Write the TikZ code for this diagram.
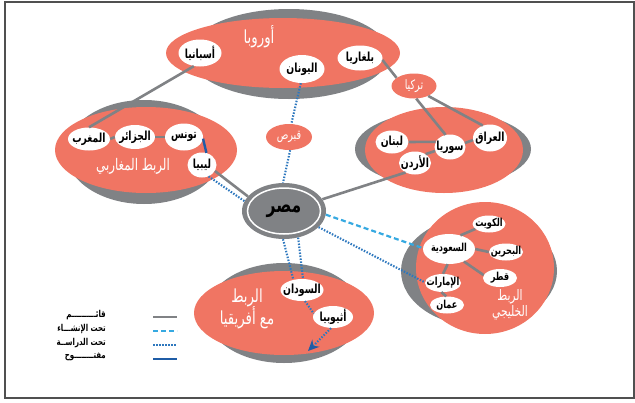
\documentclass[tikz,border=0pt]{standalone}
\usepackage{fontspec}
\usetikzlibrary{shapes.geometric,arrows.meta}
\TeXXeTstate=1
\newfontfamily\arabicfont[Script=Arabic,FakeStretch=0.74]{DejaVu Sans}
\definecolor{salmon}{HTML}{F07563}
\definecolor{grp}{HTML}{808285}
\definecolor{dotblue}{HTML}{2E78BE}
\definecolor{dashblue}{HTML}{36A9E1}
\definecolor{openblue}{HTML}{1F5CA6}
\definecolor{framec}{HTML}{505050}
\newcommand{\artx}[1]{\makebox[0pt]{\arabicfont\beginR #1\endR}}
\newcommand{\arln}[1]{{\arabicfont\beginR #1\endR}}
\begin{document}
\begin{tikzpicture}[x=1pt,y=-1pt,
  grpshadow/.style={ellipse,fill=grp,inner sep=0pt},
  grpbody/.style={ellipse,fill=salmon,inner sep=0pt},
  country/.style={ellipse,fill=white,inner sep=0pt,text=black,font=\fontsize{12.5}{12.5}\selectfont\bfseries},
  gcountry/.style={country,font=\fontsize{11}{11}\selectfont\bfseries},
  redsmall/.style={ellipse,fill=salmon,inner sep=0pt,text=white,font=\fontsize{13}{13}\selectfont},
  gtitle/.style={inner sep=0pt,text=white,font=\fontsize{16}{16}\selectfont},
  legtext/.style={inner sep=0pt,anchor=east,text=black,font=\fontsize{9.5}{9.5}\selectfont\bfseries},
  solidc/.style={draw=grp,line width=2.6pt},
  dashc/.style={draw=dashblue,line width=2.2pt,dash pattern=on 5pt off 3pt},
  dotc/.style={draw=dotblue,line width=2.1pt,dash pattern=on 1.5pt off 1.5pt},
  openc/.style={draw=openblue,line width=2.4pt}]
\useasboundingbox (0,0) rectangle (635,402);
\draw[framec,line width=1.3pt] (5,2) rectangle (634,398);

% group backgrounds
\node[grpshadow,minimum width=200pt,minimum height=90pt] (eurg) at (289,54) {};
\node[grpbody,minimum width=234pt,minimum height=70pt] (eur) at (283,53) {};
\node[grpshadow,minimum width=156pt,minimum height=104pt] (magg) at (144,152) {};
\node[grpbody,minimum width=182pt,minimum height=86pt] (magb) at (146,150) {};
\node[grpshadow,minimum width=176pt,minimum height=76pt] (levg) at (443,149) {};
\node[grpbody,minimum width=158pt,minimum height=86pt] (levb) at (444,150) {};
\node[grpshadow,minimum width=156pt,minimum height=110pt] (gulg) at (479,271) {};
\node[grpbody,minimum width=138pt,minimum height=132pt] (gulb) at (485,268) {};
\node[grpshadow,minimum width=156pt,minimum height=100pt] (afrg) at (284,313) {};
\node[grpbody,minimum width=180pt,minimum height=84pt] (afrb) at (284,313) {};

% titles
\node[gtitle,font=\fontsize{18}{18}\selectfont] (teur) at (259,37) {\arln{أوروبا}};
\node[gtitle] (tmag) at (133,166) {\arln{الربط المغاربي}};
\node[gtitle,font=\fontsize{18}{18}\selectfont] (tafr1) at (247,298) {\arln{الربط}};
\node[gtitle,font=\fontsize{18}{18}\selectfont] (tafr2) at (247,318) {\arln{مع أفريقيا}};
\node[gtitle,font=\fontsize{14.5}{14.5}\selectfont] (tgul1) at (510,297) {\arln{الربط}};
\node[gtitle,font=\fontsize{14.5}{14.5}\selectfont] (tgul2) at (510,313) {\arln{الخليجي}};

% Egypt
\node[ellipse,fill=grp,inner sep=0pt,minimum width=84pt,minimum height=56pt] (egy) at (284,211) {};
\node[ellipse,fill=grp,draw=white,line width=1.5pt,inner sep=0pt,minimum width=73pt,minimum height=46pt,text=black,font=\fontsize{21}{21}\selectfont\bfseries] (egyin) at (284,211) {\artx{مصر}};

% countries
\node[country,minimum width=43pt,minimum height=27pt] (esp) at (200,53) {\artx{أسبانيا}};
\node[country,minimum width=45pt,minimum height=28pt] (gre) at (302,69) {\artx{اليونان}};
\node[country,minimum width=45pt,minimum height=25pt] (bul) at (360,58) {\artx{بلغاريا}};
\node[redsmall,minimum width=45pt,minimum height=25pt] (tur) at (414,86) {\artx{تركيا}};
\node[redsmall,minimum width=46pt,minimum height=26pt] (cyp) at (289,137) {\artx{قبرص}};
\node[country,minimum width=42pt,minimum height=23pt] (mag) at (89,139) {\artx{المغرب}};
\node[country,minimum width=40pt,minimum height=24pt] (alg) at (135,137) {\artx{الجزائر}};
\node[country,minimum width=38pt,minimum height=27pt] (tun) at (184,137) {\artx{تونس}};
\node[country,minimum width=29pt,minimum height=25pt] (lib) at (202,165) {\artx{ليبيا}};
\node[country,minimum width=33pt,minimum height=23pt] (leb) at (392,142) {\artx{لبنان}};
\node[country,minimum width=31pt,minimum height=25pt] (syr) at (450,147) {\artx{سوريا}};
\node[country,minimum width=34pt,minimum height=27pt] (irq) at (490,138) {\artx{العراق}};
\node[country,minimum width=32pt,minimum height=23pt] (jor) at (415,163) {\artx{الأردن}};
\node[gcountry,minimum width=33pt,minimum height=17pt] (kuw) at (489,224) {\artx{الكويت}};
\node[gcountry,minimum width=52pt,minimum height=30pt] (sau) at (449,249) {\artx{السعودية}};
\node[gcountry,minimum width=34pt,minimum height=17pt] (bah) at (506,252) {\artx{البحرين}};
\node[gcountry,minimum width=34pt,minimum height=18pt] (qat) at (500,278) {\artx{قطر}};
\node[gcountry,minimum width=36pt,minimum height=18pt] (uae) at (443,283) {\artx{الإمارات}};
\node[gcountry,minimum width=34pt,minimum height=17pt] (oman) at (447,305) {\artx{عمان}};
\node[country,minimum width=43pt,minimum height=22pt] (sud) at (302,290) {\artx{السودان}};
\node[country,minimum width=40pt,minimum height=22pt] (eth) at (333,317) {\artx{أثيوبيا}};
\coordinate (arrend) at (308,351);

% connectors
\draw[solidc] (esp.-115) -- (mag.90);
\draw[solidc] (bul.-5) -- (tur.155);
\draw[solidc] (tur.-80) -- (syr.110);
\draw[solidc] (tur.-35) -- (irq.120);
\draw[solidc] (leb.0) -- (syr.160);
\draw[solidc] (syr.15) -- (irq.187);
\draw[solidc] (syr.195) -- (jor.40);
\draw[solidc] (jor.-135) -- (egy.17);
\draw[solidc] (mag.0) -- (alg.180);
\draw[solidc] (alg.0) -- (tun.180);
\draw[openc] (tun.-5) -- (lib.70);
\draw[solidc] (lib.-25) -- (egy.158);
\draw[dotc] (lib.-60) -- (egy.166);
\draw[dotc] (gre.-95) -- (cyp.80);
\draw[dotc] (cyp.-85) -- (egy.92);
\draw[dashc] (egy.-5) -- (sau.178);
\draw[dotc] (egy.-25) -- (uae.178);
\draw[dotc] (egy.-92) -- (sud.130);
\draw[dotc] (egy.-62) -- (sud.85);
\draw[dotc] (sud.-75) -- (eth.170);
\draw[dotc,-{Stealth[length=11pt,width=10pt,fill=openblue,color=openblue]}] (eth.-100) -- (arrend);
\draw[solidc] (sau.50) -- (kuw.200);
\draw[solidc] (sau.0) -- (bah.180);
\draw[solidc] (sau.-40) -- (qat.170);
\draw[solidc] (sau.-95) -- (uae.90);
\draw[solidc] (uae.-100) -- (oman.95);

% legend
\node[legtext] (l1) at (106,315) {\arln{قائــــــــــم}};
\node[legtext] (l2) at (106,329) {\arln{تحت الإنشـــاء}};
\node[legtext] (l3) at (106,343) {\arln{تحت الدراســة}};
\node[legtext] (l4) at (106,357) {\arln{مفتــــــــوح}};
\draw[solidc] (153,317) -- (177,317);
\draw[dashc] (153,331) -- (177,331);
\draw[dotc] (153,345) -- (177,345);
\draw[openc] (153,359) -- (177,359);
\end{tikzpicture}
\end{document}
